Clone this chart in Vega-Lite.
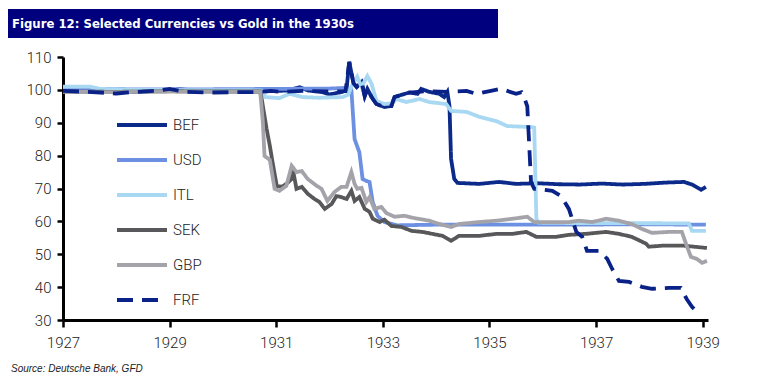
{
  "$schema": "https://vega.github.io/schema/vega-lite/v6.json",
  "padding": {"left": 8, "top": 9, "right": 5, "bottom": 2},
  "background": "white",
  "spacing": 12,
  "config": {"view": {"stroke": null}, "font": "Roboto"},
  "datasets": {
    "titleRow": [{"text": "Figure 12: Selected Currencies vs Gold in the 1930s"}],
    "fx": [
      {"currency": "BEF", "year": 1927.0, "value": 100.0},
      {"currency": "BEF", "year": 1927.4, "value": 99.6},
      {"currency": "BEF", "year": 1927.8, "value": 99.8},
      {"currency": "BEF", "year": 1928.3, "value": 99.4},
      {"currency": "BEF", "year": 1928.8, "value": 99.7},
      {"currency": "BEF", "year": 1929.2, "value": 100.2},
      {"currency": "BEF", "year": 1929.6, "value": 99.6},
      {"currency": "BEF", "year": 1930.0, "value": 99.8},
      {"currency": "BEF", "year": 1930.5, "value": 99.5},
      {"currency": "BEF", "year": 1930.9, "value": 99.6},
      {"currency": "BEF", "year": 1931.2, "value": 99.8},
      {"currency": "BEF", "year": 1931.44, "value": 100.8},
      {"currency": "BEF", "year": 1931.6, "value": 99.8},
      {"currency": "BEF", "year": 1931.85, "value": 99.4},
      {"currency": "BEF", "year": 1932.0, "value": 98.6},
      {"currency": "BEF", "year": 1932.24, "value": 99.4},
      {"currency": "BEF", "year": 1932.32, "value": 100.3},
      {"currency": "BEF", "year": 1932.37, "value": 108.5},
      {"currency": "BEF", "year": 1932.45, "value": 102.0},
      {"currency": "BEF", "year": 1932.51, "value": 100.9},
      {"currency": "BEF", "year": 1932.6, "value": 102.4},
      {"currency": "BEF", "year": 1932.66, "value": 98.1},
      {"currency": "BEF", "year": 1932.71, "value": 100.3},
      {"currency": "BEF", "year": 1932.79, "value": 97.8},
      {"currency": "BEF", "year": 1932.88, "value": 95.7},
      {"currency": "BEF", "year": 1933.03, "value": 94.8},
      {"currency": "BEF", "year": 1933.16, "value": 95.1},
      {"currency": "BEF", "year": 1933.22, "value": 97.8},
      {"currency": "BEF", "year": 1933.35, "value": 98.5},
      {"currency": "BEF", "year": 1933.5, "value": 99.2},
      {"currency": "BEF", "year": 1933.65, "value": 98.8},
      {"currency": "BEF", "year": 1933.72, "value": 100.3},
      {"currency": "BEF", "year": 1933.87, "value": 99.4},
      {"currency": "BEF", "year": 1934.06, "value": 98.8},
      {"currency": "BEF", "year": 1934.15, "value": 97.8},
      {"currency": "BEF", "year": 1934.21, "value": 99.4},
      {"currency": "BEF", "year": 1934.25, "value": 95.1},
      {"currency": "BEF", "year": 1934.28, "value": 79.0},
      {"currency": "BEF", "year": 1934.34, "value": 72.9},
      {"currency": "BEF", "year": 1934.4, "value": 71.7},
      {"currency": "BEF", "year": 1934.81, "value": 71.4},
      {"currency": "BEF", "year": 1935.18, "value": 72.0},
      {"currency": "BEF", "year": 1935.5, "value": 71.4},
      {"currency": "BEF", "year": 1935.9, "value": 71.6},
      {"currency": "BEF", "year": 1936.3, "value": 71.3},
      {"currency": "BEF", "year": 1936.7, "value": 71.2},
      {"currency": "BEF", "year": 1937.1, "value": 71.5},
      {"currency": "BEF", "year": 1937.5, "value": 71.2},
      {"currency": "BEF", "year": 1937.9, "value": 71.4},
      {"currency": "BEF", "year": 1938.3, "value": 71.8},
      {"currency": "BEF", "year": 1938.65, "value": 72.0},
      {"currency": "BEF", "year": 1938.8, "value": 71.2},
      {"currency": "BEF", "year": 1938.97, "value": 69.6},
      {"currency": "BEF", "year": 1939.06, "value": 70.5},

      {"currency": "USD", "year": 1927.0, "value": 100.3},
      {"currency": "USD", "year": 1928.0, "value": 100.2},
      {"currency": "USD", "year": 1929.0, "value": 100.1},
      {"currency": "USD", "year": 1930.0, "value": 100.2},
      {"currency": "USD", "year": 1931.0, "value": 100.3},
      {"currency": "USD", "year": 1932.0, "value": 100.4},
      {"currency": "USD", "year": 1932.3, "value": 100.6},
      {"currency": "USD", "year": 1932.41, "value": 100.0},
      {"currency": "USD", "year": 1932.47, "value": 85.0},
      {"currency": "USD", "year": 1932.56, "value": 81.0},
      {"currency": "USD", "year": 1932.62, "value": 72.9},
      {"currency": "USD", "year": 1932.69, "value": 72.3},
      {"currency": "USD", "year": 1932.75, "value": 72.0},
      {"currency": "USD", "year": 1932.81, "value": 65.9},
      {"currency": "USD", "year": 1932.9, "value": 61.7},
      {"currency": "USD", "year": 1933.03, "value": 59.8},
      {"currency": "USD", "year": 1933.27, "value": 58.8},
      {"currency": "USD", "year": 1934.0, "value": 59.0},
      {"currency": "USD", "year": 1936.0, "value": 59.0},
      {"currency": "USD", "year": 1938.0, "value": 59.1},
      {"currency": "USD", "year": 1939.06, "value": 59.0},

      {"currency": "ITL", "year": 1927.0, "value": 101.0},
      {"currency": "ITL", "year": 1927.5, "value": 101.0},
      {"currency": "ITL", "year": 1927.7, "value": 100.3},
      {"currency": "ITL", "year": 1928.5, "value": 100.0},
      {"currency": "ITL", "year": 1929.5, "value": 99.9},
      {"currency": "ITL", "year": 1930.5, "value": 99.9},
      {"currency": "ITL", "year": 1930.73, "value": 99.8},
      {"currency": "ITL", "year": 1930.8, "value": 97.8},
      {"currency": "ITL", "year": 1931.06, "value": 97.5},
      {"currency": "ITL", "year": 1931.25, "value": 98.8},
      {"currency": "ITL", "year": 1931.49, "value": 97.8},
      {"currency": "ITL", "year": 1931.81, "value": 97.6},
      {"currency": "ITL", "year": 1932.24, "value": 97.8},
      {"currency": "ITL", "year": 1932.35, "value": 98.5},
      {"currency": "ITL", "year": 1932.41, "value": 101.0},
      {"currency": "ITL", "year": 1932.52, "value": 104.0},
      {"currency": "ITL", "year": 1932.6, "value": 100.9},
      {"currency": "ITL", "year": 1932.71, "value": 104.2},
      {"currency": "ITL", "year": 1932.79, "value": 101.8},
      {"currency": "ITL", "year": 1932.88, "value": 96.6},
      {"currency": "ITL", "year": 1933.03, "value": 95.7},
      {"currency": "ITL", "year": 1933.18, "value": 95.9},
      {"currency": "ITL", "year": 1933.25, "value": 97.2},
      {"currency": "ITL", "year": 1933.44, "value": 96.3},
      {"currency": "ITL", "year": 1933.69, "value": 97.2},
      {"currency": "ITL", "year": 1933.87, "value": 96.3},
      {"currency": "ITL", "year": 1934.19, "value": 95.7},
      {"currency": "ITL", "year": 1934.28, "value": 93.6},
      {"currency": "ITL", "year": 1934.57, "value": 93.3},
      {"currency": "ITL", "year": 1934.81, "value": 91.8},
      {"currency": "ITL", "year": 1935.13, "value": 90.5},
      {"currency": "ITL", "year": 1935.33, "value": 89.0},
      {"currency": "ITL", "year": 1935.78, "value": 88.7},
      {"currency": "ITL", "year": 1935.84, "value": 88.5},
      {"currency": "ITL", "year": 1935.88, "value": 60.8},
      {"currency": "ITL", "year": 1935.92, "value": 59.6},
      {"currency": "ITL", "year": 1936.5, "value": 59.5},
      {"currency": "ITL", "year": 1938.74, "value": 59.4},
      {"currency": "ITL", "year": 1938.8, "value": 57.1},
      {"currency": "ITL", "year": 1939.06, "value": 57.1},

      {"currency": "SEK", "year": 1927.0, "value": 99.5},
      {"currency": "SEK", "year": 1928.0, "value": 99.4},
      {"currency": "SEK", "year": 1929.0, "value": 99.6},
      {"currency": "SEK", "year": 1930.0, "value": 99.5},
      {"currency": "SEK", "year": 1930.7, "value": 99.5},
      {"currency": "SEK", "year": 1930.73, "value": 97.0},
      {"currency": "SEK", "year": 1930.82, "value": 88.1},
      {"currency": "SEK", "year": 1930.88, "value": 83.0},
      {"currency": "SEK", "year": 1930.93, "value": 78.1},
      {"currency": "SEK", "year": 1931.01, "value": 70.8},
      {"currency": "SEK", "year": 1931.1, "value": 70.5},
      {"currency": "SEK", "year": 1931.19, "value": 71.4},
      {"currency": "SEK", "year": 1931.29, "value": 72.9},
      {"currency": "SEK", "year": 1931.31, "value": 76.0},
      {"currency": "SEK", "year": 1931.38, "value": 69.9},
      {"currency": "SEK", "year": 1931.48, "value": 70.5},
      {"currency": "SEK", "year": 1931.59, "value": 68.4},
      {"currency": "SEK", "year": 1931.72, "value": 66.8},
      {"currency": "SEK", "year": 1931.81, "value": 65.9},
      {"currency": "SEK", "year": 1931.91, "value": 63.8},
      {"currency": "SEK", "year": 1932.04, "value": 65.3},
      {"currency": "SEK", "year": 1932.13, "value": 67.7},
      {"currency": "SEK", "year": 1932.22, "value": 67.4},
      {"currency": "SEK", "year": 1932.32, "value": 66.8},
      {"currency": "SEK", "year": 1932.41, "value": 69.3},
      {"currency": "SEK", "year": 1932.47, "value": 66.2},
      {"currency": "SEK", "year": 1932.56, "value": 67.4},
      {"currency": "SEK", "year": 1932.66, "value": 63.8},
      {"currency": "SEK", "year": 1932.75, "value": 62.9},
      {"currency": "SEK", "year": 1932.81, "value": 60.8},
      {"currency": "SEK", "year": 1932.94, "value": 59.8},
      {"currency": "SEK", "year": 1933.03, "value": 60.5},
      {"currency": "SEK", "year": 1933.16, "value": 58.6},
      {"currency": "SEK", "year": 1933.35, "value": 58.3},
      {"currency": "SEK", "year": 1933.54, "value": 57.1},
      {"currency": "SEK", "year": 1933.74, "value": 56.8},
      {"currency": "SEK", "year": 1934.12, "value": 55.6},
      {"currency": "SEK", "year": 1934.28, "value": 54.1},
      {"currency": "SEK", "year": 1934.43, "value": 55.6},
      {"currency": "SEK", "year": 1934.81, "value": 55.6},
      {"currency": "SEK", "year": 1935.13, "value": 56.2},
      {"currency": "SEK", "year": 1935.43, "value": 56.2},
      {"currency": "SEK", "year": 1935.69, "value": 56.8},
      {"currency": "SEK", "year": 1935.88, "value": 55.3},
      {"currency": "SEK", "year": 1936.25, "value": 55.3},
      {"currency": "SEK", "year": 1936.49, "value": 55.9},
      {"currency": "SEK", "year": 1936.81, "value": 56.2},
      {"currency": "SEK", "year": 1937.19, "value": 56.8},
      {"currency": "SEK", "year": 1937.43, "value": 56.2},
      {"currency": "SEK", "year": 1937.67, "value": 55.3},
      {"currency": "SEK", "year": 1937.94, "value": 53.2},
      {"currency": "SEK", "year": 1937.99, "value": 52.3},
      {"currency": "SEK", "year": 1938.24, "value": 52.6},
      {"currency": "SEK", "year": 1938.65, "value": 52.6},
      {"currency": "SEK", "year": 1939.08, "value": 51.9},

      {"currency": "GBP", "year": 1927.0, "value": 99.4},
      {"currency": "GBP", "year": 1928.0, "value": 99.3},
      {"currency": "GBP", "year": 1929.0, "value": 99.5},
      {"currency": "GBP", "year": 1930.0, "value": 99.4},
      {"currency": "GBP", "year": 1930.7, "value": 99.4},
      {"currency": "GBP", "year": 1930.75, "value": 90.0},
      {"currency": "GBP", "year": 1930.78, "value": 79.9},
      {"currency": "GBP", "year": 1930.88, "value": 78.7},
      {"currency": "GBP", "year": 1930.97, "value": 69.9},
      {"currency": "GBP", "year": 1931.06, "value": 69.3},
      {"currency": "GBP", "year": 1931.19, "value": 70.8},
      {"currency": "GBP", "year": 1931.29, "value": 76.9},
      {"currency": "GBP", "year": 1931.38, "value": 75.0},
      {"currency": "GBP", "year": 1931.48, "value": 75.3},
      {"currency": "GBP", "year": 1931.59, "value": 72.9},
      {"currency": "GBP", "year": 1931.76, "value": 70.8},
      {"currency": "GBP", "year": 1931.85, "value": 69.9},
      {"currency": "GBP", "year": 1931.96, "value": 66.2},
      {"currency": "GBP", "year": 1932.09, "value": 68.9},
      {"currency": "GBP", "year": 1932.22, "value": 70.5},
      {"currency": "GBP", "year": 1932.32, "value": 70.5},
      {"currency": "GBP", "year": 1932.41, "value": 75.0},
      {"currency": "GBP", "year": 1932.47, "value": 71.4},
      {"currency": "GBP", "year": 1932.52, "value": 69.9},
      {"currency": "GBP", "year": 1932.6, "value": 70.2},
      {"currency": "GBP", "year": 1932.69, "value": 65.9},
      {"currency": "GBP", "year": 1932.75, "value": 67.4},
      {"currency": "GBP", "year": 1932.84, "value": 63.8},
      {"currency": "GBP", "year": 1932.97, "value": 64.4},
      {"currency": "GBP", "year": 1933.07, "value": 62.5},
      {"currency": "GBP", "year": 1933.22, "value": 61.4},
      {"currency": "GBP", "year": 1933.4, "value": 61.7},
      {"currency": "GBP", "year": 1933.59, "value": 61.0},
      {"currency": "GBP", "year": 1933.87, "value": 60.2},
      {"currency": "GBP", "year": 1934.06, "value": 59.2},
      {"currency": "GBP", "year": 1934.28, "value": 58.3},
      {"currency": "GBP", "year": 1934.43, "value": 59.2},
      {"currency": "GBP", "year": 1934.81, "value": 59.8},
      {"currency": "GBP", "year": 1935.13, "value": 60.2},
      {"currency": "GBP", "year": 1935.43, "value": 60.8},
      {"currency": "GBP", "year": 1935.71, "value": 61.4},
      {"currency": "GBP", "year": 1935.84, "value": 59.8},
      {"currency": "GBP", "year": 1936.25, "value": 59.8},
      {"currency": "GBP", "year": 1936.49, "value": 59.8},
      {"currency": "GBP", "year": 1936.68, "value": 60.2},
      {"currency": "GBP", "year": 1936.93, "value": 59.8},
      {"currency": "GBP", "year": 1937.19, "value": 60.8},
      {"currency": "GBP", "year": 1937.43, "value": 60.2},
      {"currency": "GBP", "year": 1937.67, "value": 59.2},
      {"currency": "GBP", "year": 1937.86, "value": 57.7},
      {"currency": "GBP", "year": 1938.05, "value": 56.5},
      {"currency": "GBP", "year": 1938.37, "value": 56.8},
      {"currency": "GBP", "year": 1938.61, "value": 56.8},
      {"currency": "GBP", "year": 1938.7, "value": 52.6},
      {"currency": "GBP", "year": 1938.78, "value": 49.2},
      {"currency": "GBP", "year": 1938.89, "value": 48.6},
      {"currency": "GBP", "year": 1938.99, "value": 47.4},
      {"currency": "GBP", "year": 1939.08, "value": 48.0},

      {"currency": "FRF", "year": 1927.0, "value": 99.7},
      {"currency": "FRF", "year": 1927.3, "value": 99.5},
      {"currency": "FRF", "year": 1927.7, "value": 99.2},
      {"currency": "FRF", "year": 1928.0, "value": 98.9},
      {"currency": "FRF", "year": 1928.3, "value": 99.3},
      {"currency": "FRF", "year": 1928.8, "value": 99.8},
      {"currency": "FRF", "year": 1929.0, "value": 100.3},
      {"currency": "FRF", "year": 1929.3, "value": 99.4},
      {"currency": "FRF", "year": 1929.8, "value": 99.2},
      {"currency": "FRF", "year": 1930.2, "value": 99.3},
      {"currency": "FRF", "year": 1930.6, "value": 99.3},
      {"currency": "FRF", "year": 1930.9, "value": 99.7},
      {"currency": "FRF", "year": 1931.1, "value": 99.4},
      {"currency": "FRF", "year": 1931.5, "value": 99.7},
      {"currency": "FRF", "year": 1931.9, "value": 99.5},
      {"currency": "FRF", "year": 1932.3, "value": 99.6},
      {"currency": "FRF", "year": 1932.37, "value": 108.5},
      {"currency": "FRF", "year": 1932.45, "value": 102.0},
      {"currency": "FRF", "year": 1932.51, "value": 100.9},
      {"currency": "FRF", "year": 1932.6, "value": 102.4},
      {"currency": "FRF", "year": 1932.66, "value": 98.1},
      {"currency": "FRF", "year": 1932.71, "value": 100.3},
      {"currency": "FRF", "year": 1932.79, "value": 97.8},
      {"currency": "FRF", "year": 1932.88, "value": 95.7},
      {"currency": "FRF", "year": 1933.03, "value": 94.8},
      {"currency": "FRF", "year": 1933.16, "value": 95.1},
      {"currency": "FRF", "year": 1933.22, "value": 97.8},
      {"currency": "FRF", "year": 1933.35, "value": 98.5},
      {"currency": "FRF", "year": 1933.5, "value": 99.2},
      {"currency": "FRF", "year": 1933.8, "value": 99.6},
      {"currency": "FRF", "year": 1934.2, "value": 99.4},
      {"currency": "FRF", "year": 1934.57, "value": 99.7},
      {"currency": "FRF", "year": 1934.75, "value": 98.8},
      {"currency": "FRF", "year": 1935.05, "value": 99.8},
      {"currency": "FRF", "year": 1935.22, "value": 100.3},
      {"currency": "FRF", "year": 1935.5, "value": 98.8},
      {"currency": "FRF", "year": 1935.6, "value": 99.3},
      {"currency": "FRF", "year": 1935.65, "value": 97.8},
      {"currency": "FRF", "year": 1935.71, "value": 95.0},
      {"currency": "FRF", "year": 1935.78, "value": 72.0},
      {"currency": "FRF", "year": 1935.84, "value": 69.9},
      {"currency": "FRF", "year": 1936.18, "value": 69.3},
      {"currency": "FRF", "year": 1936.34, "value": 67.7},
      {"currency": "FRF", "year": 1936.49, "value": 63.8},
      {"currency": "FRF", "year": 1936.55, "value": 60.8},
      {"currency": "FRF", "year": 1936.63, "value": 56.8},
      {"currency": "FRF", "year": 1936.74, "value": 55.3},
      {"currency": "FRF", "year": 1936.83, "value": 51.0},
      {"currency": "FRF", "year": 1937.06, "value": 51.0},
      {"currency": "FRF", "year": 1937.21, "value": 48.6},
      {"currency": "FRF", "year": 1937.3, "value": 45.6},
      {"currency": "FRF", "year": 1937.43, "value": 41.9},
      {"currency": "FRF", "year": 1937.62, "value": 41.6},
      {"currency": "FRF", "year": 1937.86, "value": 40.1},
      {"currency": "FRF", "year": 1938.05, "value": 39.5},
      {"currency": "FRF", "year": 1938.37, "value": 39.8},
      {"currency": "FRF", "year": 1938.59, "value": 39.8},
      {"currency": "FRF", "year": 1938.7, "value": 36.4},
      {"currency": "FRF", "year": 1938.8, "value": 34.0},
      {"currency": "FRF", "year": 1938.86, "value": 33.0}
    ]
  },
  "vconcat": [
    {
      "data": {"name": "titleRow"},
      "width": 490,
      "height": 29,
      "view": {"fill": "#00007F", "stroke": null},
      "mark": {"type": "text", "align": "left", "baseline": "middle", "dx": 4, "color": "white", "font": "Liberation Sans Narrow, Arial Narrow, DejaVu Sans Condensed, Liberation Sans", "fontWeight": "bold", "fontSize": 13},
      "encoding": {
        "text": {"field": "text", "type": "nominal"},
        "x": {"datum": 0, "type": "quantitative", "scale": {"domain": [0, 1]}, "axis": null}
      }
    },
    {
      "data": {"name": "fx"},
      "width": 700,
      "height": 263,
      "title": {"text": "Source: Deutsche Bank, GFD", "orient": "bottom", "anchor": "start", "frame": "bounds", "fontSize": 10, "fontStyle": "italic", "fontWeight": "normal", "font": "Liberation Sans", "color": "#222", "offset": 14, "dx": 3},
      "mark": {"type": "line", "strokeWidth": 3.8, "clip": false},
      "encoding": {
        "x": {
          "field": "year", "type": "quantitative",
          "scale": {"domain": [1927, 1939.1], "range": [55, 700], "nice": false, "zero": false},
          "axis": {"values": [1927, 1929, 1931, 1933, 1935, 1937, 1939], "format": "d", "title": null, "grid": false,
            "domainColor": "black", "domainWidth": 3, "tickColor": "black", "tickWidth": 2.5, "tickSize": 7,
            "labelFontSize": 15, "labelColor": "#222", "labelPadding": 8, "labelFont": "Roboto", "labelFontWeight": 300,
            "labelFlush": false, "labelOverlap": false}
        },
        "y": {
          "field": "value", "type": "quantitative",
          "scale": {"domain": [30, 110], "nice": false, "zero": false},
          "axis": {"values": [30, 40, 50, 60, 70, 80, 90, 100, 110], "title": null, "grid": false, "offset": -55,
            "domainColor": "black", "domainWidth": 3, "tickColor": "black", "tickWidth": 2.5, "tickSize": 6,
            "labelFontSize": 15, "labelColor": "#222", "labelPadding": 6, "labelFont": "Roboto", "labelFontWeight": 300,
            "labelFlush": false, "labelOverlap": false}
        },
        "color": {
          "field": "currency", "type": "nominal",
          "scale": {"domain": ["BEF", "USD", "ITL", "SEK", "GBP", "FRF"], "range": ["#0B2A8A", "#6E90E2", "#A8D8F2", "#58585B", "#A3A3A9", "#0A2288"]},
          "legend": {"orient": "none", "legendX": 107, "legendY": 89, "title": null, "symbolType": "stroke", "symbolSize": 2500, "symbolStrokeWidth": 4,
            "labelFontSize": 15, "labelColor": "#222", "labelFont": "Roboto", "labelFontWeight": 300, "labelOffset": 4, "rowPadding": -19}
        },
        "strokeDash": {
          "field": "currency", "type": "nominal",
          "scale": {"domain": ["BEF", "USD", "ITL", "SEK", "GBP", "FRF"], "range": [[1, 0], [1, 0], [1, 0], [1, 0], [1, 0], [16, 9]]},
          "legend": {"orient": "none", "legendX": 107, "legendY": 89, "title": null, "symbolType": "stroke", "symbolSize": 2500, "symbolStrokeWidth": 4,
            "labelFontSize": 15, "labelColor": "#222", "labelFont": "Roboto", "labelFontWeight": 300, "labelOffset": 4, "rowPadding": -19}
        }
      }
    }
  ]
}
